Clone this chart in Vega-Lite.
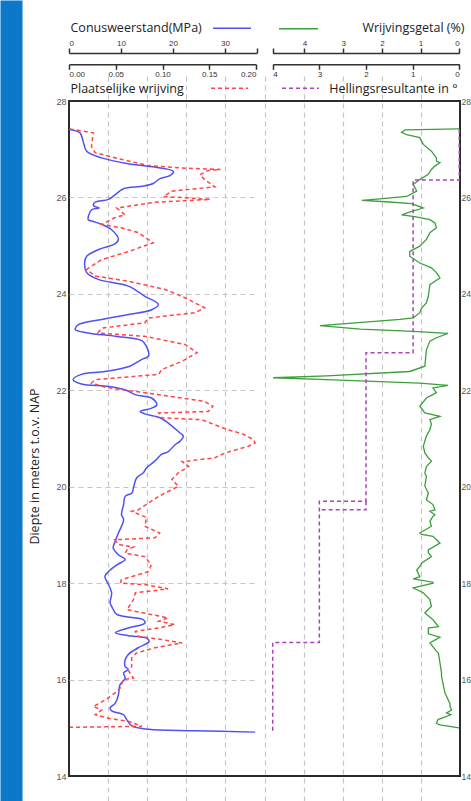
{
"$schema": "https://vega.github.io/schema/vega-lite/v6.json",
"width": 391, "height": 675,
"autosize": {"type": "none"},
"padding": {"left": 69, "top": 101, "right": 11, "bottom": 25},
"background": "white",
"config": {
  "view": {"stroke": "#2b2b2b", "strokeWidth": 2},
  "axis": {"labelFont": "Liberation Sans", "labelFontSize": 8, "labelColor": "#333", "titleFont": "Open Sans", "titleFontWeight": "normal", "titleFontSize": 12.5, "titleColor": "#222", "tickColor": "#333", "domainColor": "#333", "grid": false},
  "legend": {"padding": 0}
},
"datasets": {
"cone": [{"d":27.42,"v":0},{"d":27.41,"v":0.2},{"d":27.34,"v":2.1},{"d":27.13,"v":2.8},{"d":26.96,"v":3.4},{"d":26.82,"v":6.3},{"d":26.70,"v":11.4},{"d":26.63,"v":16.5},{"d":26.54,"v":20.1},{"d":26.45,"v":19.4},{"d":26.39,"v":17.5},{"d":26.29,"v":16.2},{"d":26.23,"v":14.0},{"d":26.18,"v":10.5},{"d":26.06,"v":8.9},{"d":25.96,"v":7.6},{"d":25.90,"v":5.0},{"d":25.83,"v":4.7},{"d":25.78,"v":5.8},{"d":25.75,"v":4.4},{"d":25.54,"v":3.7},{"d":25.51,"v":4.4},{"d":25.44,"v":6.3},{"d":25.33,"v":8.2},{"d":25.13,"v":9.5},{"d":25.04,"v":8.9},{"d":24.92,"v":5.7},{"d":24.78,"v":3.4},{"d":24.64,"v":3.0},{"d":24.44,"v":3.4},{"d":24.30,"v":5.6},{"d":24.16,"v":11.4},{"d":23.95,"v":14.6},{"d":23.78,"v":17.2},{"d":23.67,"v":15.9},{"d":23.57,"v":11.4},{"d":23.47,"v":6.3},{"d":23.36,"v":1.8},{"d":23.26,"v":1.2},{"d":23.19,"v":3.7},{"d":23.12,"v":8.9},{"d":23.03,"v":14.0},{"d":22.91,"v":14.9},{"d":22.71,"v":15.3},{"d":22.64,"v":14.0},{"d":22.50,"v":11.7},{"d":22.39,"v":6.9},{"d":22.33,"v":2.4},{"d":22.22,"v":0.8},{"d":22.13,"v":2.4},{"d":22.08,"v":7.6},{"d":22.01,"v":10.8},{"d":21.91,"v":12.7},{"d":21.84,"v":15.9},{"d":21.70,"v":16.9},{"d":21.63,"v":15.9},{"d":21.56,"v":13.7},{"d":21.51,"v":14.6},{"d":21.43,"v":17.5},{"d":21.32,"v":19.1},{"d":21.12,"v":21.3},{"d":21.05,"v":22.0},{"d":20.94,"v":21.3},{"d":20.87,"v":20.4},{"d":20.73,"v":19.1},{"d":20.67,"v":17.8},{"d":20.53,"v":16.5},{"d":20.39,"v":14.9},{"d":20.29,"v":14.3},{"d":20.18,"v":13.0},{"d":19.98,"v":12.4},{"d":19.87,"v":12.1},{"d":19.80,"v":10.8},{"d":19.63,"v":10.5},{"d":19.42,"v":10.1},{"d":19.32,"v":10.5},{"d":19.18,"v":10.1},{"d":19.04,"v":9.5},{"d":18.87,"v":8.9},{"d":18.73,"v":8.5},{"d":18.59,"v":9.5},{"d":18.49,"v":10.8},{"d":18.38,"v":9.2},{"d":18.24,"v":7.6},{"d":18.14,"v":6.9},{"d":17.97,"v":7.6},{"d":17.80,"v":8.2},{"d":17.59,"v":7.9},{"d":17.52,"v":8.2},{"d":17.35,"v":9.2},{"d":17.24,"v":14.3},{"d":17.17,"v":14.6},{"d":17.07,"v":11.4},{"d":16.97,"v":8.9},{"d":16.91,"v":11.4},{"d":16.86,"v":14.9},{"d":16.79,"v":15.4},{"d":16.66,"v":13.3},{"d":16.52,"v":11.4},{"d":16.41,"v":10.8},{"d":16.27,"v":10.8},{"d":16.21,"v":11.4},{"d":16.14,"v":10.5},{"d":16.03,"v":10.8},{"d":15.89,"v":9.8},{"d":15.68,"v":9.5},{"d":15.51,"v":8.9},{"d":15.41,"v":7.9},{"d":15.35,"v":8.2},{"d":15.27,"v":10.5},{"d":15.17,"v":11.1},{"d":15.04,"v":12.1},{"d":14.97,"v":15.3},{"d":14.94,"v":24.2},{"d":14.91,"v":35.8}],
"fs": [{"d":27.42,"v":0.001},{"d":27.34,"v":0.026},{"d":27.06,"v":0.024},{"d":26.93,"v":0.028},{"d":26.79,"v":0.056},{"d":26.66,"v":0.085},{"d":26.61,"v":0.120},{"d":26.58,"v":0.162},{"d":26.56,"v":0.149},{"d":26.47,"v":0.140},{"d":26.37,"v":0.145},{"d":26.22,"v":0.156},{"d":26.13,"v":0.110},{"d":26.02,"v":0.101},{"d":25.96,"v":0.151},{"d":25.90,"v":0.092},{"d":25.78,"v":0.051},{"d":25.64,"v":0.060},{"d":25.58,"v":0.049},{"d":25.44,"v":0.035},{"d":25.37,"v":0.056},{"d":25.27,"v":0.074},{"d":25.06,"v":0.090},{"d":24.88,"v":0.064},{"d":24.71,"v":0.035},{"d":24.54,"v":0.021},{"d":24.50,"v":0.019},{"d":24.37,"v":0.028},{"d":24.26,"v":0.064},{"d":24.09,"v":0.103},{"d":23.92,"v":0.124},{"d":23.71,"v":0.145},{"d":23.61,"v":0.135},{"d":23.50,"v":0.085},{"d":23.40,"v":0.081},{"d":23.29,"v":0.035},{"d":23.19,"v":0.031},{"d":23.12,"v":0.081},{"d":22.95,"v":0.124},{"d":22.78,"v":0.137},{"d":22.60,"v":0.121},{"d":22.43,"v":0.099},{"d":22.33,"v":0.096},{"d":22.22,"v":0.028},{"d":22.15,"v":0.024},{"d":22.06,"v":0.039},{"d":21.95,"v":0.081},{"d":21.77,"v":0.145},{"d":21.67,"v":0.154},{"d":21.56,"v":0.149},{"d":21.53,"v":0.096},{"d":21.43,"v":0.099},{"d":21.39,"v":0.142},{"d":21.18,"v":0.170},{"d":21.10,"v":0.185},{"d":20.98,"v":0.197},{"d":20.91,"v":0.199},{"d":20.84,"v":0.192},{"d":20.70,"v":0.167},{"d":20.60,"v":0.156},{"d":20.53,"v":0.126},{"d":20.52,"v":0.121},{"d":20.42,"v":0.128},{"d":20.29,"v":0.117},{"d":20.15,"v":0.110},{"d":20.01,"v":0.117},{"d":19.90,"v":0.106},{"d":19.80,"v":0.096},{"d":19.70,"v":0.088},{"d":19.52,"v":0.074},{"d":19.49,"v":0.067},{"d":19.36,"v":0.083},{"d":19.18,"v":0.081},{"d":19.04,"v":0.097},{"d":18.94,"v":0.092},{"d":18.90,"v":0.049},{"d":18.80,"v":0.053},{"d":18.75,"v":0.069},{"d":18.69,"v":0.062},{"d":18.62,"v":0.060},{"d":18.55,"v":0.081},{"d":18.38,"v":0.088},{"d":18.24,"v":0.085},{"d":18.07,"v":0.056},{"d":18.00,"v":0.055},{"d":17.97,"v":0.081},{"d":17.88,"v":0.106},{"d":17.80,"v":0.071},{"d":17.66,"v":0.069},{"d":17.45,"v":0.062},{"d":17.28,"v":0.106},{"d":17.21,"v":0.096},{"d":17.14,"v":0.113},{"d":17.07,"v":0.096},{"d":17.00,"v":0.071},{"d":16.90,"v":0.074},{"d":16.83,"v":0.099},{"d":16.76,"v":0.121},{"d":16.66,"v":0.092},{"d":16.55,"v":0.072},{"d":16.45,"v":0.067},{"d":16.27,"v":0.067},{"d":16.17,"v":0.064},{"d":16.03,"v":0.069},{"d":16.00,"v":0.058},{"d":15.83,"v":0.055},{"d":15.72,"v":0.049},{"d":15.58,"v":0.039},{"d":15.44,"v":0.026},{"d":15.37,"v":0.035},{"d":15.27,"v":0.028},{"d":15.20,"v":0.042},{"d":15.13,"v":0.064},{"d":15.03,"v":0.078},{"d":15.01,"v":0.001}],
"rf": [{"d":27.42,"v":0.0},{"d":27.40,"v":1.40},{"d":27.35,"v":1.49},{"d":27.30,"v":1.36},{"d":27.24,"v":1.02},{"d":27.10,"v":0.93},{"d":26.96,"v":0.72},{"d":26.82,"v":0.59},{"d":26.75,"v":0.59},{"d":26.72,"v":0.50},{"d":26.65,"v":0.63},{"d":26.58,"v":0.72},{"d":26.48,"v":0.80},{"d":26.37,"v":1.02},{"d":26.27,"v":1.19},{"d":26.13,"v":1.10},{"d":26.02,"v":1.36},{"d":25.97,"v":2.05},{"d":25.94,"v":2.52},{"d":25.91,"v":1.90},{"d":25.87,"v":1.23},{"d":25.78,"v":0.93},{"d":25.71,"v":1.23},{"d":25.64,"v":1.49},{"d":25.60,"v":1.15},{"d":25.54,"v":0.76},{"d":25.47,"v":0.63},{"d":25.37,"v":0.59},{"d":25.27,"v":0.76},{"d":25.13,"v":0.85},{"d":24.99,"v":1.02},{"d":24.88,"v":1.28},{"d":24.78,"v":1.28},{"d":24.64,"v":1.02},{"d":24.54,"v":0.72},{"d":24.44,"v":0.59},{"d":24.33,"v":0.50},{"d":24.26,"v":0.63},{"d":24.19,"v":0.76},{"d":23.95,"v":0.80},{"d":23.81,"v":0.85},{"d":23.71,"v":0.97},{"d":23.61,"v":1.02},{"d":23.50,"v":1.19},{"d":23.47,"v":1.53},{"d":23.34,"v":3.60},{"d":23.27,"v":2.56},{"d":23.22,"v":1.19},{"d":23.18,"v":0.29},{"d":23.09,"v":0.59},{"d":23.02,"v":0.76},{"d":22.84,"v":0.85},{"d":22.50,"v":0.89},{"d":22.39,"v":1.28},{"d":22.30,"v":3.42},{"d":22.26,"v":4.81},{"d":22.22,"v":3.42},{"d":22.15,"v":1.02},{"d":22.10,"v":0.29},{"d":22.05,"v":0.68},{"d":21.95,"v":0.59},{"d":21.84,"v":0.85},{"d":21.67,"v":1.02},{"d":21.53,"v":0.89},{"d":21.46,"v":0.50},{"d":21.39,"v":0.76},{"d":21.30,"v":0.72},{"d":21.18,"v":0.76},{"d":21.05,"v":0.85},{"d":20.84,"v":0.93},{"d":20.70,"v":0.89},{"d":20.60,"v":0.80},{"d":20.53,"v":0.72},{"d":20.42,"v":0.85},{"d":20.28,"v":0.89},{"d":20.22,"v":0.85},{"d":20.01,"v":0.89},{"d":19.87,"v":0.80},{"d":19.73,"v":0.85},{"d":19.63,"v":0.68},{"d":19.52,"v":0.63},{"d":19.49,"v":0.76},{"d":19.42,"v":0.63},{"d":19.39,"v":0.68},{"d":19.28,"v":0.76},{"d":19.18,"v":0.72},{"d":19.04,"v":1.02},{"d":19.01,"v":0.97},{"d":18.97,"v":0.68},{"d":18.90,"v":0.59},{"d":18.83,"v":0.50},{"d":18.69,"v":0.80},{"d":18.63,"v":0.80},{"d":18.55,"v":0.72},{"d":18.42,"v":0.97},{"d":18.35,"v":1.02},{"d":18.27,"v":1.10},{"d":18.13,"v":1.02},{"d":18.09,"v":1.19},{"d":18.02,"v":0.68},{"d":18.00,"v":0.68},{"d":17.90,"v":1.19},{"d":17.80,"v":0.93},{"d":17.66,"v":0.76},{"d":17.52,"v":0.72},{"d":17.38,"v":0.89},{"d":17.24,"v":0.68},{"d":17.10,"v":0.54},{"d":17.07,"v":0.80},{"d":16.95,"v":0.80},{"d":16.88,"v":0.50},{"d":16.76,"v":0.76},{"d":16.59,"v":0.59},{"d":16.55,"v":0.54},{"d":16.35,"v":0.50},{"d":16.14,"v":0.46},{"d":16.07,"v":0.46},{"d":15.72,"v":0.37},{"d":15.50,"v":0.24},{"d":15.44,"v":0.24},{"d":15.37,"v":0.20},{"d":15.31,"v":0.33},{"d":15.27,"v":0.22},{"d":15.17,"v":0.55},{"d":15.09,"v":0.59},{"d":15.06,"v":0.50},{"d":15.00,"v":0.0}],
"hel": [{"i":1,"seg":"a","d":27.41,"v":0},{"i":2,"seg":"a","d":26.36,"v":0},{"i":3,"seg":"a","d":26.36,"v":0.99},{"i":4,"seg":"a","d":22.78,"v":0.99},{"i":5,"seg":"a","d":22.78,"v":2.0},{"i":6,"seg":"a","d":19.70,"v":2.0},{"i":7,"seg":"a","d":19.70,"v":3.0},{"i":8,"seg":"a","d":16.77,"v":3.0},{"i":9,"seg":"a","d":16.77,"v":4.0},{"i":10,"seg":"a","d":14.93,"v":4.0},{"i":11,"seg":"b","d":19.70,"v":2.0},{"i":12,"seg":"b","d":19.52,"v":2.0},{"i":13,"seg":"b","d":19.52,"v":3.0}]
},
"layer": [
{
  "data": {"name": "rf"},
  "mark": {"type": "point", "opacity": 0},
  "encoding": {
    "x": {"field": "v", "type": "quantitative", "scale": {"domain": [10, 0], "range": [0, 391], "nice": false, "zero": false},
      "axis": {"orient": "bottom", "values": [1,2,3,4,5,6,7,8,9], "grid": true, "gridDash": [5,4], "gridColor": "#c6c6c6", "gridWidth": 1.2, "labels": false, "ticks": false, "domain": false, "title": null}},
    "y": {"field": "d", "type": "quantitative", "scale": {"domain": [14, 28], "range": [700, -101], "nice": false, "zero": false},
      "axis": {"orient": "left", "offset": 58, "domain": true, "domainWidth": 22, "domainColor": "#0b78c9", "labels": false, "ticks": false, "grid": false, "title": null}}
  }
},
{
  "data": {"name": "cone"},
  "mark": {"type": "line", "strokeWidth": 1.5, "interpolate": "catmull-rom"},
  "encoding": {
    "x": {"field": "v", "type": "quantitative", "scale": {"domain": [0, 36.1], "range": [0, 187.7], "nice": false, "zero": false},
      "axis": {"orient": "top", "offset": 48, "values": [0,10,20,30,36.1], "labelExpr": "datum.value > 35 ? '' : datum.label", "tickSize": 5, "tickWidth": 1.5, "domainWidth": 1.5, "labelPadding": 1, "title": "Conusweerstand(MPa)", "titleX": 1, "titleY": -25.5, "titleAlign": "left", "titleBaseline": "middle"}},
    "y": {"field": "d", "type": "quantitative", "scale": {"domain": [14, 28], "nice": false, "zero": false},
      "axis": {"orient": "left", "values": [14,16,18,20,22,24,26,28], "grid": true, "gridDash": [5,4], "gridColor": "#c6c6c6", "gridWidth": 1.2,
        "gridOpacity": {"condition": {"test": "datum.value == 14 || datum.value == 28", "value": 0}, "value": 1},
        "ticks": false, "domain": false, "labelFontSize": 9, "labelColor": "#555", "labelPadding": 3,
        "title": "Diepte in meters t.o.v. NAP", "titleX": -35, "titleY": 365, "titleAngle": -90, "titleAlign": "center", "titleBaseline": "middle"}},
    "order": {"field": "d", "sort": "descending"},
    "color": {"datum": "Conusweerstand", "scale": {"range": ["#5050f5"]},
      "legend": {"orient": "none", "legendX": 143, "legendY": -92.7, "title": null, "labelExpr": "''", "symbolType": "stroke", "symbolSize": 1444, "symbolStrokeWidth": 1.5}}
  }
},
{
  "data": {"name": "fs"},
  "mark": {"type": "line", "strokeWidth": 1.5, "strokeDash": [4, 3]},
  "encoding": {
    "x": {"field": "v", "type": "quantitative", "scale": {"domain": [0, 0.2], "range": [0, 187], "nice": false, "zero": false},
      "axis": {"orient": "bottom", "offset": -711.7, "values": [0,0.05,0.1,0.15,0.2], "format": ".2f", "tickSize": 5, "tickWidth": 1.5, "domainWidth": 1.5, "labelPadding": 1, "title": "Plaatselijke wrijving", "titleX": 1, "titleY": 24, "titleAlign": "left", "titleBaseline": "middle"}},
    "y": {"field": "d", "type": "quantitative", "scale": {"domain": [14, 28], "nice": false, "zero": false}, "axis": null},
    "order": {"field": "d", "sort": "descending"},
    "color": {"datum": "Plaatselijke wrijving", "scale": {"range": ["#ff4545"]},
      "legend": {"orient": "none", "legendX": 141, "legendY": -32.3, "title": null, "labelExpr": "''", "symbolType": "stroke", "symbolSize": 1369, "symbolStrokeWidth": 1.5, "symbolDash": [4, 3]}}
  }
},
{
  "data": {"name": "rf"},
  "mark": {"type": "line", "strokeWidth": 1.3},
  "encoding": {
    "x": {"field": "v", "type": "quantitative", "scale": {"domain": [4.82, 0], "range": [203.7, 390.3], "nice": false, "zero": false},
      "axis": {"orient": "top", "offset": 48, "values": [4.82,4,3,2,1,0], "labelExpr": "datum.value > 4.5 ? '' : datum.label", "tickSize": 5, "tickWidth": 1.5, "domainWidth": 1.5, "labelPadding": 1, "title": "Wrijvingsgetal (%)", "titleX": 395, "titleY": -25.5, "titleAlign": "right", "titleBaseline": "middle"}},
    "y": {"field": "d", "type": "quantitative", "scale": {"domain": [14, 28], "nice": false, "zero": false},
      "axis": {"orient": "right", "values": [14,16,18,20,22,24,26,28], "ticks": false, "domain": false, "grid": false, "labelFontSize": 8.5, "labelColor": "#555", "labelPadding": 1, "title": null}},
    "order": {"field": "d", "sort": "descending"},
    "color": {"datum": "Wrijvingsgetal", "scale": {"range": ["#3c9f3c"]},
      "legend": {"orient": "none", "legendX": 209, "legendY": -92.7, "title": null, "labelExpr": "''", "symbolType": "stroke", "symbolSize": 1521, "symbolStrokeWidth": 1.5}}
  }
},
{
  "data": {"name": "hel"},
  "mark": {"type": "line", "strokeWidth": 1.5, "strokeDash": [4, 3]},
  "encoding": {
    "x": {"field": "v", "type": "quantitative", "scale": {"domain": [4, 0], "range": [203.7, 390.3], "nice": false, "zero": false},
      "axis": {"orient": "bottom", "offset": -711.7, "values": [4,3,2,1,0], "tickSize": 5, "tickWidth": 1.5, "domainWidth": 1.5, "labelPadding": 1, "title": "Hellingsresultante in °", "titleX": 388, "titleY": 24, "titleAlign": "right", "titleBaseline": "middle"}},
    "y": {"field": "d", "type": "quantitative", "scale": {"domain": [14, 28], "nice": false, "zero": false}, "axis": null},
    "order": {"field": "i"},
    "detail": {"field": "seg"},
    "color": {"datum": "Hellingsresultante", "scale": {"range": ["#a845b8"]},
      "legend": {"orient": "none", "legendX": 212, "legendY": -32.3, "title": null, "labelExpr": "''", "symbolType": "stroke", "symbolSize": 1369, "symbolStrokeWidth": 1.5, "symbolDash": [4, 3]}}
  }
}
],
"resolve": {"scale": {"x": "independent", "y": "independent", "color": "independent"}, "axis": {"x": "independent", "y": "independent"}, "legend": {"color": "independent"}}
}
